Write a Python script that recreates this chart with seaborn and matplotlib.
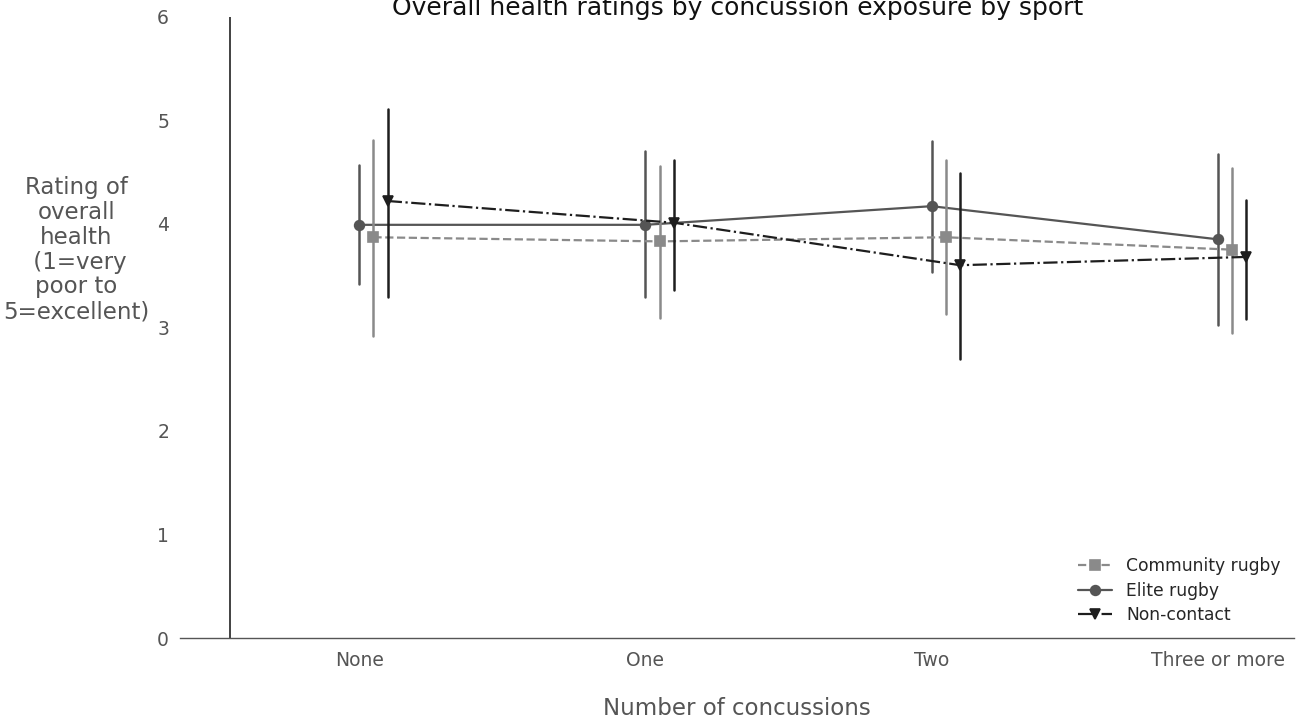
import numpy as np
import pandas as pd
import matplotlib
matplotlib.use("Agg")
import matplotlib.pyplot as plt
import seaborn as sns

# dados (media e limites do intervalo)
categorias = ["None", "One", "Two", "Three or more"]
esportes = ["Elite rugby", "Community rugby", "Non-contact"]

elite_media = [3.99, 3.99, 4.17, 3.85]
elite_inf = [3.42, 3.29, 3.53, 3.02]
elite_sup = [4.57, 4.70, 4.80, 4.67]

comunidade_media = [3.87, 3.83, 3.87, 3.75]
comunidade_inf = [2.92, 3.09, 3.13, 2.95]
comunidade_sup = [4.81, 4.56, 4.62, 4.54]

nao_contato_media = [4.22, 4.01, 3.60, 3.68]
nao_contato_inf = [3.29, 3.36, 2.69, 3.08]
nao_contato_sup = [5.11, 4.62, 4.49, 4.23]

series = {
    "Elite rugby": (elite_inf, elite_media, elite_sup),
    "Community rugby": (comunidade_inf, comunidade_media, comunidade_sup),
    "Non-contact": (nao_contato_inf, nao_contato_media, nao_contato_sup),
}

linhas = []
for esporte, (inf, media, sup) in series.items():
    for i, cat in enumerate(categorias):
        for v in (inf[i], media[i], sup[i]):
            linhas.append({"Concussoes": cat, "Esporte": esporte, "Nota": v})
df = pd.DataFrame(linhas)

sns.set_theme(style="white")
plt.rcParams["font.family"] = ["DejaVu Sans"]

cores = {"Elite rugby": "#555555", "Community rugby": "#8a8a8a", "Non-contact": "#1e1e1e"}

fig = plt.figure(figsize=(13.06, 7.25), dpi=100)
ax = fig.add_axes([0.138, 0.12, 0.853, 0.857])

sns.pointplot(
    data=df, x="Concussoes", y="Nota", hue="Esporte",
    order=categorias, hue_order=esportes,
    estimator="median", errorbar=lambda v: (v.min(), v.max()),
    palette=cores, markers=["o", "s", "v"], linestyles=["-", "--", "-."],
    dodge=0.1, markersize=7, linewidth=1.6,
    err_kws={"linewidth": 1.8}, ax=ax,
)

ax.set_ylim(0, 6)
ax.set_xlim(-0.675, 3.217)
ax.set_xticks(np.arange(len(categorias)) - 0.05, categorias)
ax.set_yticks(range(7))
ax.tick_params(axis="both", length=0, labelsize=13.5, labelcolor="#555555")
ax.tick_params(axis="y", pad=8)
ax.tick_params(axis="x", pad=9)

# eixo vertical desenhado na borda da primeira categoria
for lado in ["top", "right", "left"]:
    ax.spines[lado].set_visible(False)
ax.axvline(-0.5, color="#333333", linewidth=1.3)
ax.spines["bottom"].set_color("#555555")
ax.spines["bottom"].set_linewidth(1.0)

ax.set_title("Overall health ratings by concussion exposure by sport",
             fontsize=18, color="#111111", pad=1)
ax.set_xlabel("Number of concussions", fontsize=16.5, color="#555555", labelpad=20)
ax.set_ylabel("Rating of\noverall\nhealth\n (1=very\npoor to\n5=excellent)",
              fontsize=16.5, color="#555555", rotation=0, ha="center", va="center",
              linespacing=1.1)
ax.yaxis.set_label_coords(-0.093, 0.625)

handles, labels = ax.get_legend_handles_labels()
ordem = [labels.index(n) for n in ["Community rugby", "Elite rugby", "Non-contact"]]
ax.legend([handles[i] for i in ordem], [labels[i] for i in ordem],
          loc="lower right", frameon=False, fontsize=12.3, handlelength=2.0,
          borderaxespad=0.4, labelspacing=0.4)

fig.savefig("out.png", dpi=100)
